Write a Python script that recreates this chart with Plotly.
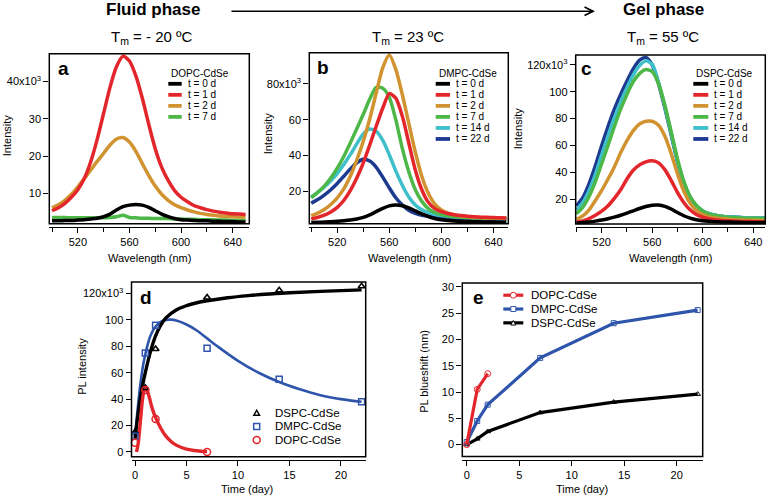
import plotly.graph_objects as go

W, H = 767, 498

# ---- data (intensities in units of 10^3) ----
wavelength = [500, 505, 510, 515, 520, 525, 530, 535, 540, 545, 550, 555, 560, 565, 570, 575,
              580, 585, 590, 595, 600, 605, 610, 615, 620, 625, 630, 635, 640, 645, 650]

# panel a: DOPC-CdSe
dopc_t0 = [2.7, 2.7, 2.8, 2.8, 2.9, 3.0, 3.2, 3.4, 3.8, 4.5, 5.6, 6.5, 6.9, 7.1, 6.9, 6.3,
           5.4, 4.5, 3.8, 3.3, 3.0, 2.9, 2.8, 2.7, 2.7, 2.6, 2.6, 2.5, 2.5, 2.4, 2.4]
dopc_t1 = [5.4, 6.2, 7.4, 9.0, 11.0, 14.0, 18.5, 24.5, 31.5, 38.5, 44.0, 46.8, 45.5, 41.5, 35.5, 28.5,
           22.0, 17.0, 13.5, 10.8, 9.0, 7.8, 6.8, 6.2, 5.7, 5.3, 5.0, 4.8, 4.6, 4.5, 4.4]
dopc_t2 = [6.2, 7.0, 8.2, 9.8, 11.8, 14.0, 16.3, 18.6, 20.8, 23.0, 24.6, 25.0, 23.8, 21.3, 18.0, 14.8,
           12.0, 9.8, 8.2, 7.0, 6.2, 5.6, 5.1, 4.7, 4.4, 4.2, 4.0, 3.9, 3.8, 3.7, 3.7]
dopc_t7 = [3.6, 3.6, 3.6, 3.5, 3.5, 3.5, 3.5, 3.5, 3.5, 3.6, 3.8, 4.2, 3.6, 3.5, 3.4, 3.4,
           3.3, 3.3, 3.3, 3.2, 3.2, 3.1, 3.1, 3.0, 3.0, 3.0, 2.9, 2.9, 2.8, 2.8, 2.8]

# panel b: DMPC-CdSe
dmpc_t0 = [2.8, 2.9, 3.0, 3.2, 3.4, 3.7, 4.1, 4.7, 5.6, 7.0, 8.8, 10.6, 12.0, 12.5, 12.1, 10.9,
           9.2, 7.5, 6.1, 5.0, 4.3, 3.9, 3.6, 3.4, 3.3, 3.2, 3.1, 3.0, 3.0, 2.9, 2.9]
dmpc_t1 = [4.7, 5.6, 6.8, 8.6, 11.2, 15.0, 20.5, 27.5, 36.0, 46.0, 56.5, 66.5, 74.5, 72.0, 62.0, 47.0,
           32.0, 21.0, 14.0, 10.5, 8.8, 7.8, 7.1, 6.6, 6.2, 5.9, 5.7, 5.6, 5.5, 5.4, 5.3]
dmpc_t2 = [6.5, 8.0, 10.0, 12.8, 16.5, 21.5, 28.5, 37.5, 48.0, 60.5, 75.0, 89.0, 96.0, 88.0, 74.0, 58.0,
           42.0, 28.5, 19.0, 13.0, 9.8, 8.0, 7.0, 6.4, 6.0, 5.7, 5.5, 5.3, 5.2, 5.1, 5.0]
dmpc_t7 = [16.5, 19.5, 23.0, 27.5, 33.0, 39.5, 47.0, 55.0, 63.0, 71.5, 78.0, 77.5, 72.5, 60.0, 44.0, 31.0,
           21.0, 14.5, 10.5, 8.3, 7.1, 6.4, 6.0, 5.7, 5.5, 5.3, 5.2, 5.1, 5.0, 5.0, 4.9]
dmpc_t14 = [17.0, 19.5, 22.5, 26.0, 30.0, 35.0, 40.5, 46.5, 52.0, 54.8, 53.5, 48.5, 40.5, 31.5, 23.5, 17.0,
            12.5, 9.8, 8.2, 7.2, 6.6, 6.2, 5.9, 5.7, 5.5, 5.4, 5.3, 5.2, 5.1, 5.0, 5.0]
dmpc_t22 = [13.5, 15.5, 18.0, 21.0, 24.5, 28.5, 32.5, 36.0, 38.0, 37.0, 33.5, 28.0, 22.0, 16.5, 12.5, 9.5,
            7.8, 6.8, 6.2, 5.8, 5.5, 5.3, 5.1, 5.0, 4.9, 4.8, 4.7, 4.6, 4.6, 4.5, 4.5]

# panel c: DSPC-CdSe
dspc_t0 = [2.0, 2.5, 3.0, 3.6, 4.4, 5.4, 6.6, 8.0, 9.6, 11.3, 13.0, 14.5, 15.5, 15.6, 14.6, 12.6,
           10.0, 7.6, 5.8, 4.6, 3.9, 3.5, 3.2, 3.0, 2.9, 2.8, 2.7, 2.6, 2.6, 2.5, 2.5]
dspc_t1 = [2.7, 3.8, 5.5, 8.0, 11.0, 15.0, 20.5, 27.0, 35.0, 41.5, 45.5, 47.8, 48.5, 47.0, 42.0, 34.0,
           25.0, 17.5, 12.0, 8.5, 6.5, 5.3, 4.6, 4.1, 3.8, 3.6, 3.4, 3.3, 3.2, 3.1, 3.0]
dspc_t2 = [5.0, 7.5, 12.0, 19.0, 26.5, 35.0, 44.0, 54.5, 63.5, 71.0, 76.0, 78.0, 78.0, 75.0, 67.0, 54.0,
           39.0, 26.0, 17.0, 11.5, 8.5, 6.8, 5.9, 5.3, 4.9, 4.6, 4.4, 4.3, 4.2, 4.1, 4.0]
dspc_t7 = [9.0, 14.0, 22.0, 33.0, 46.5, 60.0, 74.0, 87.0, 98.0, 107.5, 113.5, 116.5, 115.0, 106.0, 90.0, 70.5,
           50.0, 33.5, 22.0, 15.2, 11.2, 9.0, 7.8, 7.0, 6.5, 6.2, 6.0, 5.8, 5.7, 5.6, 5.5]
dspc_t14 = [12.0, 17.5, 26.5, 38.5, 53.0, 67.0, 80.5, 92.5, 103.0, 112.5, 119.5, 123.0, 120.5, 107.0, 89.0, 69.0,
            48.5, 32.5, 21.5, 15.0, 11.2, 9.2, 8.0, 7.3, 6.8, 6.5, 6.3, 6.1, 6.0, 5.9, 5.8]
dspc_t22 = [15.0, 21.0, 31.5, 45.0, 60.0, 74.0, 87.0, 98.0, 108.0, 117.0, 123.5, 125.5, 120.0, 106.0, 88.0, 68.0,
            48.0, 32.0, 21.5, 15.0, 11.2, 9.2, 8.0, 7.3, 6.8, 6.5, 6.3, 6.1, 6.0, 5.9, 5.8]

# panel d: PL intensity vs time
days = [0, 1, 2, 7, 14, 22]
dopc_days = [0, 1, 2, 7]
dspc_pl = [15, 48.5, 78, 117, 122.5, 125.5]
dmpc_pl = [12, 75, 96, 78.5, 55, 38]
dopc_pl = [7, 47, 25, 0]

dspc_fit_t = [0, 0.25, 0.5, 0.75, 1, 1.5, 2, 2.5, 3, 4, 5, 6, 7, 9, 11, 13, 15, 18, 22]
dspc_fit = [10, 26, 40, 51, 60, 76, 88, 96, 101.5, 107.5, 110.8, 113, 114.5, 116.8, 118.4, 119.6, 120.6, 121.6, 122.7]
dmpc_fit_t = [0, 0.25, 0.5, 0.75, 1, 1.5, 2, 2.5, 3, 3.5, 4, 5, 6, 7, 8, 10, 12, 14, 16, 18, 20, 22]
dmpc_fit = [12, 32, 50, 64, 74, 88, 95, 98.5, 100, 100.2, 99.5, 96.5, 92, 86, 80, 69, 60, 53, 47.5, 43, 40, 38]
dopc_fit_t = [0.15, 0.3, 0.45, 0.6, 0.75, 0.9, 1.05, 1.2, 1.4, 1.6, 1.8, 2, 2.5, 3, 3.5, 4, 5, 6, 7]
dopc_fit = [0, 6, 17, 30, 41, 47, 48, 46, 41, 35, 30, 26, 18, 12, 8, 5.2, 2.2, 0.9, 0.3]

# panel e: PL blueshift (nm)
dopc_shift = [0, 10.5, 13.5]
dmpc_shift = [0.5, 4.5, 7.6, 16.5, 23.1, 25.6]
dspc_shift = [0, 1.1, 2.5, 6.1, 8.1, 9.6]

time_labels = ["t = 0 d", "t = 1 d", "t = 2 d", "t = 7 d", "t = 14 d", "t = 22 d"]

BLACK = "#000000"
RED = "#e3262b"
ORANGE = "#d09330"
GREEN = "#4db848"
CYAN = "#3fbfc9"
NAVY = "#1c3a8f"
BLUE = "#2e55ab"
spec_colors = [BLACK, RED, ORANGE, GREEN, CYAN, NAVY]

FONT = "Liberation Sans, Arial, sans-serif"


def px(x):
    return x / W


def py(y):
    return 1 - y / H


# panel frames in pixels: left, right, top, bottom
panels = {
    "a": (49.3, 249.3, 52, 223),
    "b": (309.3, 508.3, 51, 223),
    "c": (575.7, 765.3, 53.3, 223.3),
    "d": (131.5, 365.7, 281.7, 457.5),
    "e": (462.3, 702.7, 282.7, 457.3),
}
xranges = {"a": [497.9, 652.9], "b": [498.5, 651.5], "c": [499.4, 649.6],
           "d": [-0.34, 22.4], "e": [-0.42, 22.48]}
yranges = {"a": [1.94, 47.45], "b": [2.1, 97.3], "c": [1.48, 127.4],
           "d": [-3.6, 128.7], "e": [-2.27, 30.75]}
axis_ids = {"a": "", "b": "2", "c": "3", "d": "4", "e": "5"}

fig = go.Figure()

spectra = {
    "a": [dopc_t0, dopc_t1, dopc_t2, dopc_t7],
    "b": [dmpc_t0, dmpc_t1, dmpc_t2, dmpc_t7, dmpc_t14, dmpc_t22],
    "c": [dspc_t0, dspc_t1, dspc_t2, dspc_t7, dspc_t14, dspc_t22],
}
for key, curves in spectra.items():
    n = axis_ids[key]
    # draw in reverse so early curves sit on top like the original
    for i in range(len(curves) - 1, -1, -1):
        fig.add_trace(go.Scatter(
            x=wavelength, y=curves[i], mode="lines",
            line=dict(color=spec_colors[i], width=3.5, shape="spline", smoothing=0.7),
            xaxis="x" + n, yaxis="y" + n, showlegend=False))

# panel d
fig.add_trace(go.Scatter(x=dmpc_fit_t, y=dmpc_fit, mode="lines",
                         line=dict(color=BLUE, width=2.6, shape="spline"),
                         xaxis="x4", yaxis="y4", showlegend=False))
fig.add_trace(go.Scatter(x=dspc_fit_t, y=dspc_fit, mode="lines",
                         line=dict(color=BLACK, width=3.4, shape="spline"),
                         xaxis="x4", yaxis="y4", showlegend=False))
fig.add_trace(go.Scatter(x=dopc_fit_t, y=dopc_fit, mode="lines",
                         line=dict(color=RED, width=3.4, shape="spline"),
                         xaxis="x4", yaxis="y4", showlegend=False))
fig.add_trace(go.Scatter(x=days, y=dspc_pl, mode="markers",
                         marker=dict(symbol="triangle-up-open", size=6, color=BLACK, line=dict(width=1.6)),
                         xaxis="x4", yaxis="y4", showlegend=False, cliponaxis=False))
fig.add_trace(go.Scatter(x=days, y=dmpc_pl, mode="markers",
                         marker=dict(symbol="square-open", size=6, color=BLUE, line=dict(width=1.5)),
                         xaxis="x4", yaxis="y4", showlegend=False, cliponaxis=False))
fig.add_trace(go.Scatter(x=dopc_days, y=dopc_pl, mode="markers",
                         marker=dict(symbol="circle-open", size=7, color=RED, line=dict(width=1.5)),
                         xaxis="x4", yaxis="y4", showlegend=False, cliponaxis=False))

# panel e
fig.add_trace(go.Scatter(x=days, y=dspc_shift, mode="lines+markers",
                         line=dict(color=BLACK, width=3.2),
                         marker=dict(symbol="triangle-up-open", size=5, color=BLACK, line=dict(width=1)),
                         xaxis="x5", yaxis="y5", showlegend=False, cliponaxis=False))
fig.add_trace(go.Scatter(x=days, y=dmpc_shift, mode="lines+markers",
                         line=dict(color=BLUE, width=3.2),
                         marker=dict(symbol="square-open", size=5, color=BLUE, line=dict(width=1)),
                         xaxis="x5", yaxis="y5", showlegend=False, cliponaxis=False))
fig.add_trace(go.Scatter(x=dopc_days[:3], y=dopc_shift, mode="lines+markers",
                         line=dict(color=RED, width=3.2),
                         marker=dict(symbol="circle-open", size=6, color=RED, line=dict(width=1)),
                         xaxis="x5", yaxis="y5", showlegend=False, cliponaxis=False))

tickfont = dict(family=FONT, size=11, color="black")
layout_axes = {}
shapes = []
for key, (L, R, T, B) in panels.items():
    n = axis_ids[key]
    xa = dict(domain=[px(L), px(R)], range=xranges[key], anchor="free", position=py(B + 3),
              showline=True, linecolor="black", linewidth=1.2, ticks="outside", ticklen=5,
              tickwidth=1.2, tickcolor="black", showgrid=False, zeroline=False, tickfont=tickfont)
    ya = dict(domain=[py(B), py(T)], range=yranges[key], anchor="x" + n, showline=False,
              ticks="outside", ticklen=5, tickwidth=1.2, tickcolor="black", showgrid=False,
              zeroline=False, tickfont=tickfont)
    if key in "abc":
        xa.update(tickvals=[520, 560, 600, 640],
                  minor=dict(tickvals=[500, 540, 580, 620], ticks="outside", ticklen=4,
                             tickwidth=1.2, tickcolor="black"))
    else:
        xa.update(tickvals=[0, 5, 10, 15, 20])
    layout_axes["xaxis" + n] = xa
    layout_axes["yaxis" + n] = ya
    shapes.append(dict(type="rect", xref="paper", yref="paper", x0=px(L), x1=px(R),
                       y0=py(B), y1=py(T), line=dict(color="black", width=1.5), layer="above"))

layout_axes["yaxis"].update(tickvals=[10, 20, 30, 40], ticktext=["10", "20", "30", "40x10<sup>3</sup>"])
layout_axes["yaxis2"].update(tickvals=[20, 40, 60, 80], ticktext=["20", "40", "60", "80x10<sup>3</sup>"])
layout_axes["yaxis3"].update(tickvals=[20, 40, 60, 80, 100, 120],
                             ticktext=["20", "40", "60", "80", "100", "120x10<sup>3</sup>"])
layout_axes["yaxis4"].update(tickvals=[0, 20, 40, 60, 80, 100, 120],
                             ticktext=["0", "20", "40", "60", "80", "100", "120x10<sup>3</sup>"])
layout_axes["yaxis5"].update(tickvals=[0, 5, 10, 15, 20, 25, 30])

annotations = []


def text(x, y, s, size=11, bold=False, angle=0, xanchor="center", color="black"):
    annotations.append(dict(x=px(x), y=py(y), xref="paper", yref="paper", text=s,
                            showarrow=False, textangle=angle, xanchor=xanchor, yanchor="middle",
                            font=dict(family=FONT, size=size, color=color,
                                      weight="bold" if bold else "normal")))


# headers
text(153, 8, "Fluid phase", size=17, bold=True)
text(663, 8, "Gel phase", size=17, bold=True)
annotations.append(dict(x=px(595), y=py(9.3), xref="paper", yref="paper", text="",
                        showarrow=True, ax=-365, ay=0, axref="pixel", ayref="pixel",
                        arrowhead=5, arrowsize=1.3, arrowwidth=1.3, arrowcolor="black"))
text(152, 36, "T<sub>m</sub> = - 20 ºC", size=15)
text(408, 36, "T<sub>m</sub> = 23 ºC", size=15)
text(663, 36, "T<sub>m</sub> = 55 ºC", size=15)

# panel letters
text(63, 67, "a", size=19, bold=True)
text(323, 66, "b", size=19, bold=True)
text(586, 67, "c", size=19, bold=True)
text(146, 297, "d", size=19, bold=True)
text(478, 297, "e", size=19, bold=True)

# axis titles
text(149, 258, "Wavelength (nm)")
text(409, 258, "Wavelength (nm)")
text(670, 258, "Wavelength (nm)")
text(247, 490, "Time (day)")
text(582, 490, "Time (day)")
text(7, 135, "Intensity", angle=-90)
text(268, 133, "Intensity", angle=-90)
text(518, 128, "Intensity", angle=-90)
text(82, 367, "PL intensity", angle=-90)
text(424, 372, "PL blueshift (nm)", angle=-90)

# legends for spectra panels
spec_legends = [("a", "DOPC-CdSe", 168.3, 181.7, 186, 4),
                ("b", "DMPC-CdSe", 435.7, 450, 454, 6),
                ("c", "DSPC-CdSe", 693.3, 708.3, 712, 6)]
for key, title, x0, x1, xt, count in spec_legends:
    text(x0 + 1, 71.7, title, size=10, xanchor="left")
    for i in range(count):
        yy = 82.3 + 11.1 * i
        shapes.append(dict(type="line", xref="paper", yref="paper", x0=px(x0), x1=px(x1),
                           y0=py(yy), y1=py(yy), line=dict(color=spec_colors[i], width=3.8)))
        text(xt, yy, time_labels[i], size=10, xanchor="left")

# legend panel d (markers only)
d_legend = [("DSPC-CdSe", BLACK, "tri"), ("DMPC-CdSe", BLUE, "sq"), ("DOPC-CdSe", RED, "circ")]
for i, (name, col, sym) in enumerate(d_legend):
    yy = 413.3 + 13.7 * i
    cx = 256.7
    if sym == "tri":
        shapes.append(dict(type="path", xref="paper", yref="paper",
                           path="M %f %f L %f %f L %f %f Z" % (px(cx - 2.8), py(yy + 2.4), px(cx + 2.8), py(yy + 2.4), px(cx), py(yy - 2.6)),
                           line=dict(color=col, width=1.5)))
    elif sym == "sq":
        shapes.append(dict(type="rect", xref="paper", yref="paper", x0=px(cx - 3), x1=px(cx + 3),
                           y0=py(yy + 3), y1=py(yy - 3), line=dict(color=col, width=1.5)))
    else:
        shapes.append(dict(type="circle", xref="paper", yref="paper", x0=px(cx - 3.5), x1=px(cx + 3.5),
                           y0=py(yy + 3.5), y1=py(yy - 3.5), line=dict(color=col, width=1.5)))
    text(273.3, yy, name, size=11.5, xanchor="left")

# legend panel e (line + marker)
e_legend = [("DOPC-CdSe", RED, "circ"), ("DMPC-CdSe", BLUE, "sq"), ("DSPC-CdSe", BLACK, "tri")]
for i, (name, col, sym) in enumerate(e_legend):
    yy = 295 + 13.9 * i
    cx = 513.3
    shapes.append(dict(type="line", xref="paper", yref="paper", x0=px(503.3), x1=px(523.3),
                       y0=py(yy), y1=py(yy), line=dict(color=col, width=3.2)))
    if sym == "tri":
        shapes.append(dict(type="path", xref="paper", yref="paper",
                           path="M %f %f L %f %f L %f %f Z" % (px(cx - 2.5), py(yy + 2.2), px(cx + 2.5), py(yy + 2.2), px(cx), py(yy - 2.4)),
                           fillcolor="white", line=dict(color=col, width=1)))
    elif sym == "sq":
        shapes.append(dict(type="rect", xref="paper", yref="paper", x0=px(cx - 2.5), x1=px(cx + 2.5),
                           y0=py(yy + 2.5), y1=py(yy - 2.5), fillcolor="white", line=dict(color=col, width=1)))
    else:
        shapes.append(dict(type="circle", xref="paper", yref="paper", x0=px(cx - 3), x1=px(cx + 3),
                           y0=py(yy + 3), y1=py(yy - 3), fillcolor="white", line=dict(color=col, width=1)))
    text(529.3, yy, name, size=11.5, xanchor="left")

fig.update_layout(
    width=W, height=H, autosize=False,
    margin=dict(l=0, r=0, t=0, b=0),
    paper_bgcolor="white", plot_bgcolor="white",
    font=dict(family=FONT, size=11, color="black"),
    shapes=shapes, annotations=annotations,
    **layout_axes,
)

# the page's default body margin would shift the figure by 8px
fig.write_html("out.html", config={"displayModeBar": False},
               post_script="document.body.style.margin='0';")
